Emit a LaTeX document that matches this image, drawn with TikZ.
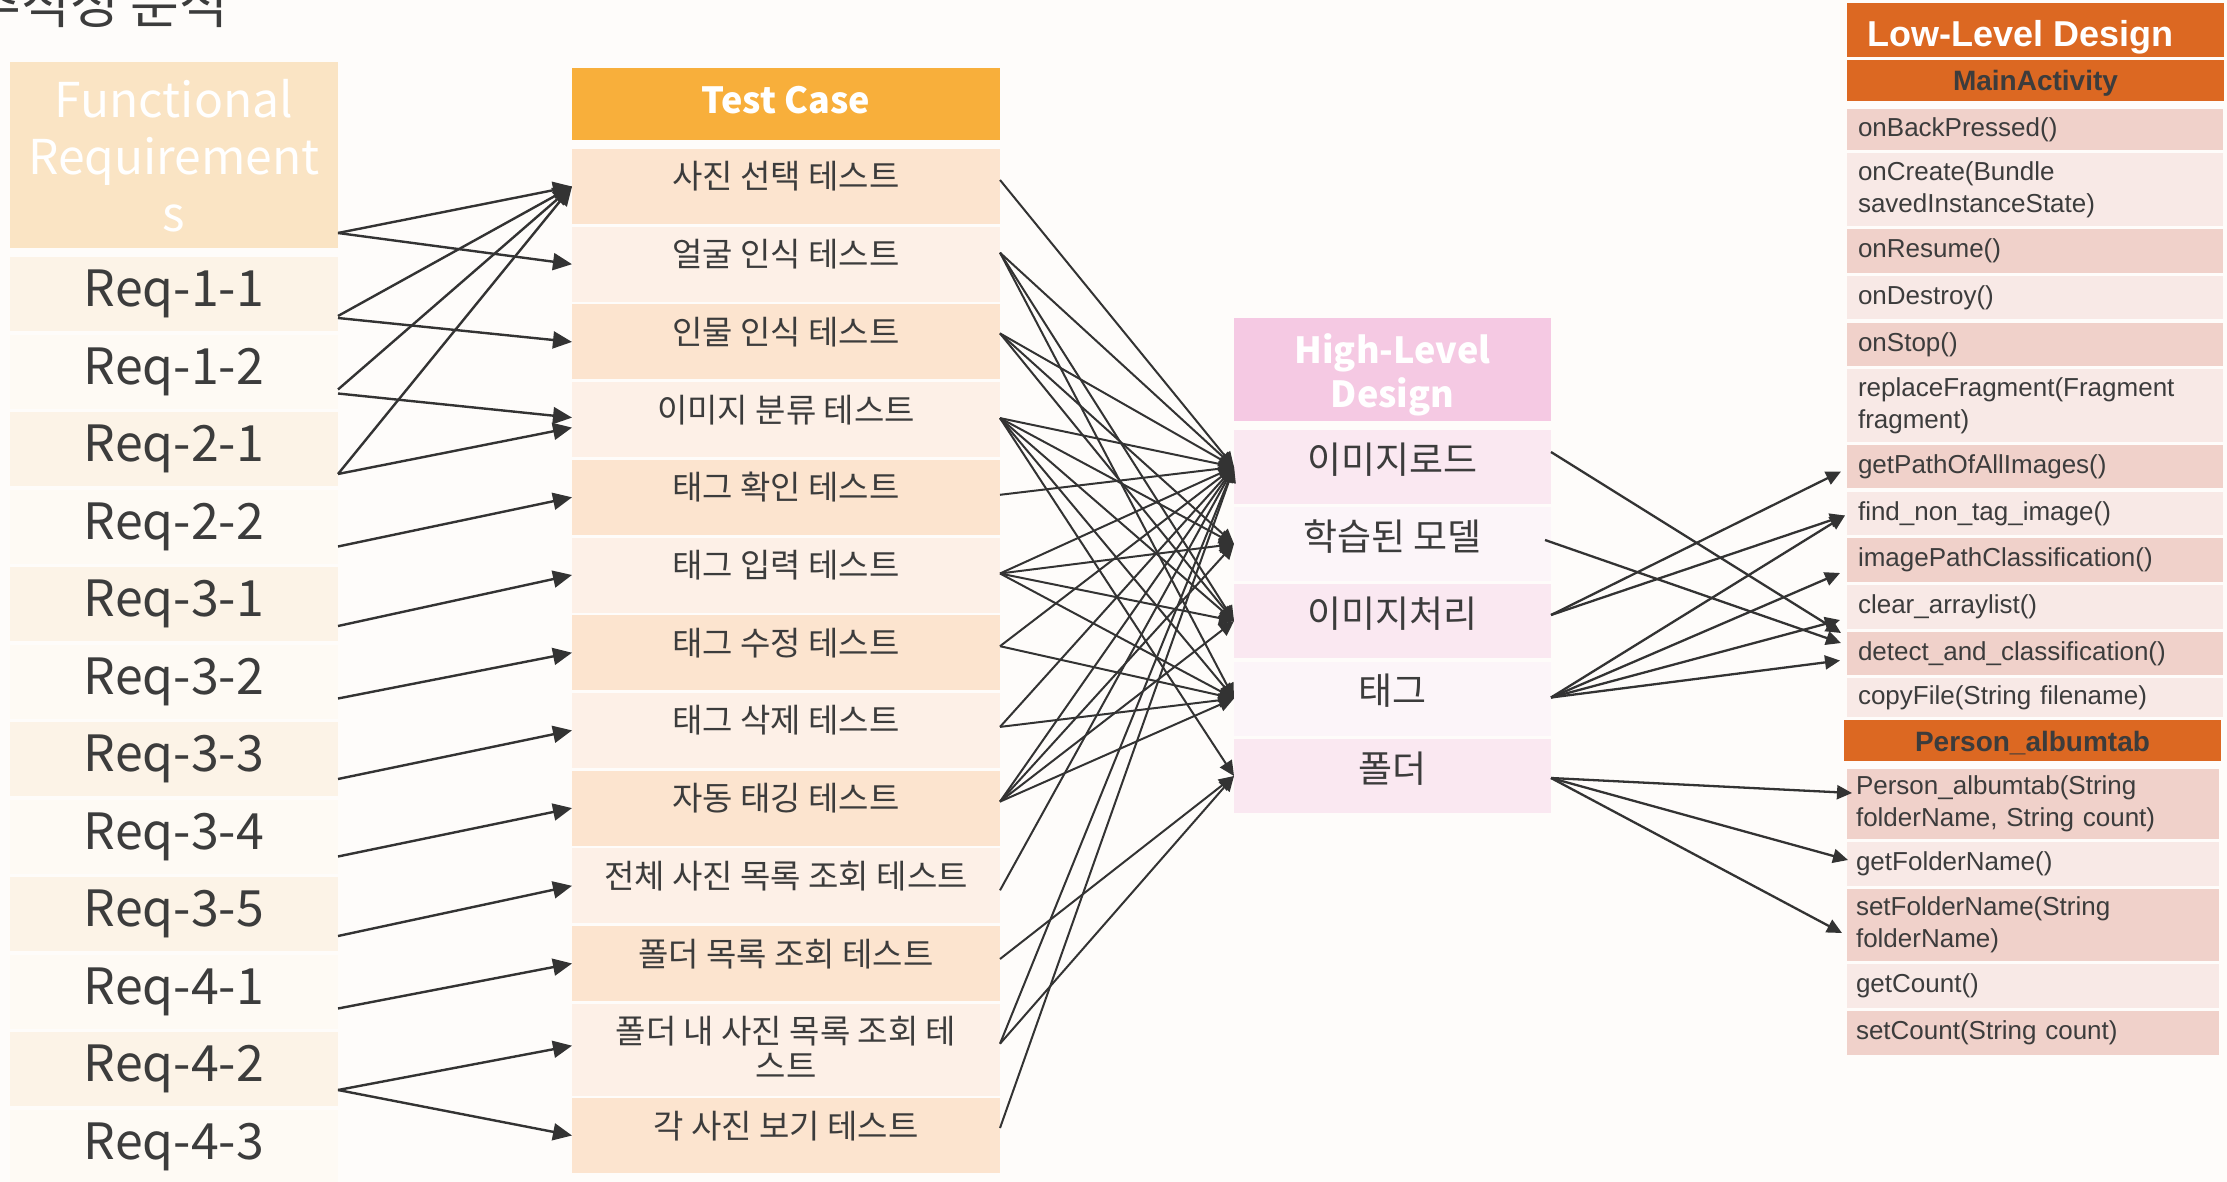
\documentclass[tikz,border=0pt]{standalone}
\usepackage{fontspec}
\setmainfont{Liberation Sans}
\newfontfamily\krfont{Noto Sans CJK KR}
\usetikzlibrary{arrows.meta,calc}
\definecolor{bgc}{HTML}{FEFCFA}
\definecolor{frh}{HTML}{FAE4C4}
\definecolor{reqA}{HTML}{FCF3E7}
\definecolor{reqB}{HTML}{FEFAF4}
\definecolor{tch}{HTML}{F8AF3B}
\definecolor{tcA}{HTML}{FCE4CF}
\definecolor{tcB}{HTML}{FDF0E7}
\definecolor{hldh}{HTML}{F5C9E3}
\definecolor{hA}{HTML}{FAE8F1}
\definecolor{hB}{HTML}{FCF5F9}
\definecolor{lld}{HTML}{DC6822}
\definecolor{mA}{HTML}{F0D1CA}
\definecolor{mB}{HTML}{F8E9E6}
\definecolor{txtc}{HTML}{3C3C3C}
\definecolor{arrc}{HTML}{333333}
\tikzset{
  cell/.style 2 args={rectangle,inner sep=0pt,outer sep=0pt,anchor=north west,minimum width=#1,minimum height=#2},
  reqtxt/.style={font=\krfont\fontsize{50}{60}\selectfont, text=txtc},
  fhtxt/.style={font=\krfont\fontsize{48}{57}\selectfont, text=white, anchor=base, inner sep=0pt},
  tctxt/.style={font=\krfont\fontsize{33}{35}\selectfont, text=txtc, anchor=base, inner sep=0pt},
  hdtxt/.style={font=\krfont\bfseries\fontsize{36}{44}\selectfont, text=white, anchor=base, inner sep=0pt},
  hltxt/.style={font=\krfont\fontsize{37}{44}\selectfont, text=txtc, anchor=base, inner sep=0pt},
  mtxt/.style={font=\fontsize{26}{32}\selectfont, text=txtc, align=left, text width=354pt, inner xsep=11pt, inner ysep=0pt, anchor=north west, outer sep=0pt},
  clsname/.style={font=\bfseries\fontsize{28}{32}\selectfont, text=txtc, anchor=base, inner sep=0pt},
  larr/.style={draw=arrc, line width=2.4pt, -{Triangle[length=19pt,width=17pt]}},
  marr/.style={draw=arrc, line width=2pt, -{Triangle[length=15pt,width=14pt]}},
  rarr/.style={draw=arrc, line width=2.3pt, -{Triangle[length=15pt,width=14pt]}},
}
\newcommand\tcrow[5]{%
  \node[cell={428pt}{#3pt}, fill=#4] (#1) at (572,#2) {};
  \node[tctxt] (#1t) at ($(#1.north)+(0,40)$) {#5};}
\newcommand\hrow[4]{%
  \node[cell={317pt}{74pt}, fill=#3] (#1) at (1234,#2) {};
  \node[hltxt] (#1t) at ($(#1.north)+(0,43)$) {#4};}
\begin{document}
\begin{tikzpicture}[x=1pt,y=-1pt]
\useasboundingbox (0,0) rectangle (2227,1182);
\clip (0,0) rectangle (2227,1182);
\fill[bgc] (0,0) rectangle (2227,1182);
% title (cut off at the top edge, as in the reference)
\node[font=\krfont\fontsize{53}{60}\selectfont, text=txtc, anchor=base west, inner sep=0pt] (title) at (-27.5,24) {추적성 분석};
% ---------- Functional requirements ----------
\node[cell={328pt}{186pt}, fill=frh] (frh) at (10,62) {};
\node[fhtxt] (fh1) at (174,118) {Functional};
\node[fhtxt] (fh2) at (174,175) {Requirement};
\node[fhtxt] (fh3) at (174,232) {s};
\foreach \lab [count=\i from 0] in {Req-1-1,Req-1-2,Req-2-1,Req-2-2,Req-3-1,Req-3-2,Req-3-3,Req-3-4,Req-3-5,Req-4-1,Req-4-2,Req-4-3}{
  \pgfmathsetmacro\tp{257+77.5*\i}
  \ifodd\i \def\cc{reqB}\else\def\cc{reqA}\fi
  \node[cell={328pt}{74pt}, fill=\cc, reqtxt] (r\i) at (10,\tp) {\lab};
}
% ---------- Test cases ----------
\node[cell={428pt}{72pt}, fill=tch] (tch) at (572,68) {};
\node[font=\krfont\bfseries\fontsize{36}{40}\selectfont, text=white, anchor=base, inner sep=0pt] (tcht) at (786,114) {Test Case};
\tcrow{c0}{149}{75}{tcA}{사진 선택 테스트}
\tcrow{c1}{226.7}{75}{tcB}{얼굴 인식 테스트}
\tcrow{c2}{304.4}{75}{tcA}{인물 인식 테스트}
\tcrow{c3}{382.1}{75}{tcB}{이미지 분류 테스트}
\tcrow{c4}{459.8}{75}{tcA}{태그 확인 테스트}
\tcrow{c5}{537.5}{75}{tcB}{태그 입력 테스트}
\tcrow{c6}{615.2}{75}{tcA}{태그 수정 테스트}
\tcrow{c7}{692.9}{75}{tcB}{태그 삭제 테스트}
\tcrow{c8}{770.6}{75}{tcA}{자동 태깅 테스트}
\tcrow{c9}{848.3}{75}{tcB}{전체 사진 목록 조회 테스트}
\tcrow{c10}{926}{75}{tcA}{폴더 목록 조회 테스트}
\tcrow{c11}{1003.7}{92}{tcB}{폴더 내 사진 목록 조회 테}
\node[tctxt] (c11u) at ($(c11t.base)+(0,35)$) {스트};
\tcrow{c12}{1098}{75}{tcA}{각 사진 보기 테스트}
% ---------- High-level design ----------
\node[cell={317pt}{103pt}, fill=hldh] (hdh) at (1234,318) {};
\node[hdtxt] (hd1) at (1392.5,363) {High-Level};
\node[hdtxt] (hd2) at (1392.5,407) {Design};
\hrow{h1}{430}{hA}{이미지로드}
\hrow{h2}{507}{hB}{학습된 모델}
\hrow{h3}{584}{hA}{이미지처리}
\hrow{h4}{661.5}{hB}{태그}
\hrow{h5}{739}{hA}{폴더}
% ---------- Low-level design ----------
\node[cell={377pt}{54pt}, fill=lld] (lldh) at (1847,3) {};
\node[font=\bfseries\fontsize{36}{40}\selectfont, text=white, anchor=base west, inner sep=0pt] (lldt) at (1867,47) {Low-Level Design};
\node[cell={377pt}{41pt}, fill=lld] (ma) at (1847,60) {};
\node[clsname] (mat) at (2035.5,91) {MainActivity};
\node[mtxt, minimum height=41pt, fill=mA] (m1) at (1847,109) {onBackPressed()};
\node[mtxt, minimum height=73pt, fill=mB] (m2) at (1847,153) {onCreate(Bundle\\savedInstanceState)};
\node[mtxt, minimum height=44pt, fill=mA] (m3) at (1847,229) {onResume()};
\node[mtxt, minimum height=43pt, fill=mB] (m4) at (1847,276) {onDestroy()};
\node[mtxt, minimum height=43pt, fill=mA] (m5) at (1847,323) {onStop()};
\node[mtxt, minimum height=73pt, fill=mB] (m6) at (1847,369) {replaceFragment(Fragment\\fragment)};
\node[mtxt, minimum height=43pt, fill=mA] (m7) at (1847,445) {getPathOfAllImages()};
\node[mtxt, minimum height=43pt, fill=mB] (m8) at (1847,492) {find\_non\_tag\_image()};
\node[mtxt, minimum height=44pt, fill=mA] (m9) at (1847,538) {imagePathClassification()};
\node[mtxt, minimum height=44pt, fill=mB] (m10) at (1847,585) {clear\_arraylist()};
\node[mtxt, minimum height=43pt, fill=mA] (m11) at (1847,632) {detect\_and\_classification()};
\node[mtxt, minimum height=39pt, fill=mB] (m12) at (1847,678) {copyFile(String filename)};
\node[cell={377pt}{41pt}, fill=lld] (pa) at (1844,720) {};
\node[clsname] (pat) at (2032.5,751) {Person\_albumtab};
\node[mtxt, minimum height=70pt, fill=mA, inner xsep=9pt] (p1) at (1847,769) {Person\_albumtab(String\\folderName, String count)};
\node[mtxt, minimum height=44pt, fill=mB, inner xsep=9pt] (p2) at (1847,842) {getFolderName()};
\node[mtxt, minimum height=72pt, fill=mA, inner xsep=9pt] (p3) at (1847,889) {setFolderName(String\\folderName)};
\node[mtxt, minimum height=44pt, fill=mB, inner xsep=9pt] (p4) at (1847,964) {getCount()};
\node[mtxt, minimum height=44pt, fill=mA, inner xsep=9pt] (p5) at (1847,1011) {setCount(String count)};
% ---------- FR -> TC ----------
\draw[larr] ($(frh.south east)+(0,-15)$) -- (c0.west);
\draw[larr] ($(frh.south east)+(0,-15)$) -- (c1.west);
\draw[larr] ($(r0.south east)+(0,-15)$) -- (c0.west);
\draw[larr] ($(r0.south east)+(0,-13)$) -- (c2.west);
\draw[larr] ($(r1.south east)+(0,-19)$) -- (c0.west);
\draw[larr] ($(r1.south east)+(0,-15)$) -- ($(c3.west)+(0,-2)$);
\draw[larr] ($(r2.south east)+(0,-12)$) -- (c0.west);
\draw[larr] ($(r2.south east)+(0,-12)$) -- ($(c3.west)+(0,8)$);
\draw[larr] ($(r3.south east)+(0,-17)$) -- (c4.west);
\draw[larr] ($(r4.south east)+(0,-15)$) -- (c5.west);
\draw[larr] ($(r5.south east)+(0,-20)$) -- (c6.west);
\draw[larr] ($(r6.south east)+(0,-17)$) -- (c7.west);
\draw[larr] ($(r7.south east)+(0,-17)$) -- (c8.west);
\draw[larr] ($(r8.south east)+(0,-15)$) -- (c9.west);
\draw[larr] ($(r9.south east)+(0,-20)$) -- (c10.west);
\draw[larr] ($(r10.south east)+(0,-16)$) -- ($(c11.west)+(0,-4)$);
\draw[larr] ($(r10.south east)+(0,-16)$) -- (c12.west);
% ---------- TC -> HLD ----------
\draw[marr] ($(c0.north east)+(0,31)$) -- (h1.west);
\draw[marr] ($(c1.north east)+(0,26)$) -- (h1.west);
\draw[marr] ($(c1.north east)+(0,26)$) -- (h3.west);
\draw[marr] ($(c1.north east)+(0,26)$) -- (h4.west);
\draw[marr] ($(c2.north east)+(0,29)$) -- (h1.west);
\draw[marr] ($(c2.north east)+(0,29)$) -- (h2.west);
\draw[marr] ($(c2.north east)+(0,29)$) -- (h3.west);
\draw[marr] ($(c3.north east)+(0,36)$) -- (h1.west);
\draw[marr] ($(c3.north east)+(0,36)$) -- (h2.west);
\draw[marr] ($(c3.north east)+(0,36)$) -- (h3.west);
\draw[marr] ($(c3.north east)+(0,36)$) -- (h4.west);
\draw[marr] ($(c3.north east)+(0,36)$) -- (h5.west);
\draw[marr] ($(c4.north east)+(0,35)$) -- (h1.west);
\draw[marr] ($(c5.north east)+(0,36)$) -- (h1.west);
\draw[marr] ($(c5.north east)+(0,36)$) -- (h2.west);
\draw[marr] ($(c5.north east)+(0,36)$) -- (h3.west);
\draw[marr] ($(c5.north east)+(0,36)$) -- (h4.west);
\draw[marr] ($(c6.north east)+(0,31)$) -- (h1.west);
\draw[marr] ($(c6.north east)+(0,31)$) -- (h4.west);
\draw[marr] ($(c7.north east)+(0,34)$) -- (h1.west);
\draw[marr] ($(c7.north east)+(0,34)$) -- (h4.west);
\draw[marr] ($(c8.north east)+(0,31)$) -- (h1.west);
\draw[marr] ($(c8.north east)+(0,31)$) -- (h2.west);
\draw[marr] ($(c8.north east)+(0,31)$) -- (h3.west);
\draw[marr] ($(c8.north east)+(0,31)$) -- (h4.west);
\draw[marr] ($(c9.north east)+(0,42)$) -- (h1.west);
\draw[marr] ($(c10.north east)+(0,33)$) -- (h5.west);
\draw[marr] ($(c11.north east)+(0,40)$) -- (h1.west);
\draw[marr] ($(c11.north east)+(0,40)$) -- (h5.west);
\draw[marr] ($(c12.north east)+(0,30)$) -- (h1.west);
% ---------- HLD -> LLD ----------
\draw[rarr] ($(h1.north east)+(0,22)$) -- ($(m11.north west)+(-6,1)$);
\draw[rarr] ($(h2.north east)+(-6,33)$) -- ($(m11.north west)+(-6,11)$);
\draw[rarr] ($(h3.north east)+(0,31)$) -- ($(m7.west)+(-6,5)$);
\draw[rarr] ($(h3.north east)+(0,31)$) -- ($(m8.west)+(-2,2)$);
\draw[rarr] ($(h4.north east)+(0,36)$) -- ($(m8.west)+(-2,2)$);
\draw[rarr] ($(h4.north east)+(0,36)$) -- ($(m9.west)+(-7,13)$);
\draw[rarr] ($(h4.north east)+(0,36)$) -- ($(m10.west)+(-7,13)$);
\draw[rarr] ($(h4.north east)+(0,36)$) -- ($(m11.west)+(-7,7)$);
\draw[rarr] ($(h5.north east)+(0,39)$) -- ($(p1.north west)+(5,24)$);
\draw[rarr] ($(h5.north east)+(0,39)$) -- ($(p2.west)+(1,-4)$);
\draw[rarr] ($(h5.north east)+(0,39)$) -- ($(p3.west)+(-5,8)$);
\end{tikzpicture}
\end{document}
